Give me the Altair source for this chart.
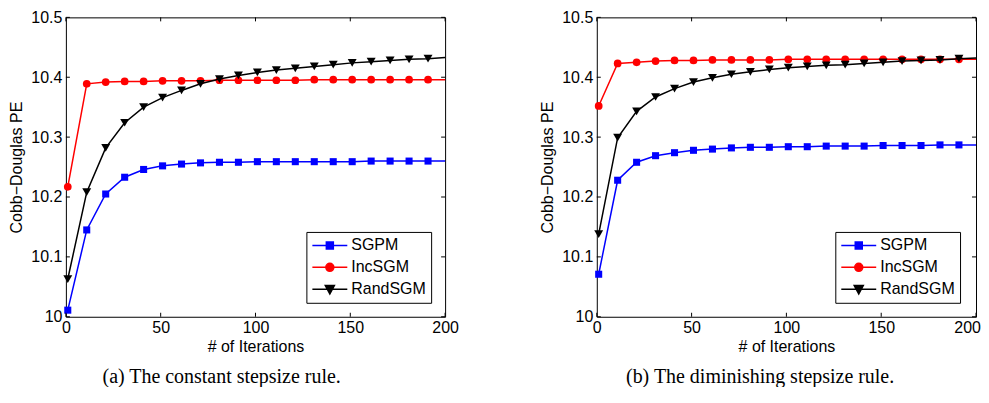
import altair as alt
import pandas as pd

# ---------------- data ----------------
iterations = [1, 11, 21, 31, 41, 51, 61, 71, 81, 91, 101, 111, 121, 131, 141,
              151, 161, 171, 181, 191, 200]
series_names = ["SGPM", "IncSGM", "RandSGM"]

# (a) constant stepsize rule
const_sgpm = [10.011, 10.145, 10.205, 10.233, 10.246, 10.252, 10.255, 10.257,
              10.258, 10.258, 10.259, 10.259, 10.259, 10.259, 10.259, 10.259,
              10.260, 10.260, 10.260, 10.260, 10.260]
const_inc = [10.217, 10.389, 10.392, 10.393, 10.393, 10.394, 10.394, 10.394,
             10.395, 10.395, 10.395, 10.395, 10.395, 10.396, 10.396, 10.396,
             10.396, 10.396, 10.396, 10.396, 10.396]
const_rand = [10.063, 10.208, 10.282, 10.324, 10.350, 10.366, 10.378, 10.389,
              10.397, 10.403, 10.408, 10.412, 10.415, 10.418, 10.421, 10.424,
              10.426, 10.428, 10.430, 10.431, 10.433]

# (b) diminishing stepsize rule
dim_sgpm = [10.071, 10.228, 10.258, 10.269, 10.274, 10.278, 10.280, 10.282,
            10.283, 10.283, 10.284, 10.284, 10.285, 10.285, 10.285, 10.286,
            10.286, 10.286, 10.287, 10.287, 10.287]
dim_inc = [10.352, 10.423, 10.425, 10.427, 10.428, 10.428, 10.429, 10.429,
           10.429, 10.429, 10.430, 10.430, 10.430, 10.430, 10.430, 10.430,
           10.430, 10.430, 10.430, 10.430, 10.430]
dim_rand = [10.138, 10.299, 10.343, 10.367, 10.381, 10.392, 10.399, 10.405,
            10.409, 10.413, 10.416, 10.418, 10.420, 10.421, 10.423, 10.425,
            10.427, 10.428, 10.429, 10.431, 10.432]

x_ticks = [0, 50, 100, 150, 200]
y_ticks = [10.0, 10.1, 10.2, 10.3, 10.4, 10.5]
x_title = "# of Iterations"
y_title = "Cobb\u2212Douglas PE"
captions = ["(a) The constant stepsize rule.", "(b) The diminishing stepsize rule."]

# ---------------- styles ----------------
colors = ["#0000ff", "#ff0000", "#000000"]
marker_shapes = ["square", "circle", "triangle-down"]
marker_sizes = [50, 60, 80]
legend_paths = [
    "M-1,0H1M-0.2,-0.2H0.2V0.2H-0.2Z",
    "M-1,0H1M-0.23,0A0.23,0.23 0 1,0 0.23,0A0.23,0.23 0 1,0 -0.23,0Z",
    "M-1,0H1M-0.26,-0.22L0.26,-0.22L0,0.26Z",
]
W, H = 380, 300
SANS = "Liberation Sans"
FS = 16


def panel(values, caption, cap_dx, leg_x, flush):
    rows = []
    for name, arr in zip(series_names, values):
        for it, v in zip(iterations, arr):
            rows.append({"iter": it, "value": v, "series": name})
    df = pd.DataFrame(rows)

    xs = alt.Scale(domain=[0, 200], nice=False, zero=False)
    ys = alt.Scale(domain=[10, 10.5], nice=False, zero=False)

    x_axis = alt.Axis(values=x_ticks, title=x_title, ticks=False, domain=False,
                      grid=False, labelPadding=3, titlePadding=3,
                      labelFlush=flush, labelFlushOffset=4.45,
                      labelOverlap=False,
                      labelFont=SANS, titleFont=SANS, labelFontSize=FS,
                      titleFontSize=FS, titleFontWeight="normal",
                      labelColor="black", titleColor="black")
    y_axis = alt.Axis(values=y_ticks, title=y_title, ticks=False, domain=False,
                      grid=False, labelPadding=4, titlePadding=6, format="~g",
                      labelOverlap=False,
                      labelFont=SANS, titleFont=SANS, labelFontSize=FS,
                      titleFontSize=FS, titleFontWeight="normal",
                      labelColor="black", titleColor="black")

    base = alt.Chart(df)
    X = alt.X("iter:Q", scale=xs, axis=x_axis)
    Y = alt.Y("value:Q", scale=ys, axis=y_axis)
    layers = []
    for i, name in enumerate(series_names):
        sub = base.transform_filter(alt.datum.series == name)
        line = sub.mark_line(strokeWidth=1.5, color=colors[i]).encode(x=X, y=Y)
        pts = sub.transform_filter(alt.datum.iter < 200).mark_point(
            shape=marker_shapes[i], size=marker_sizes[i], filled=True,
            opacity=1, color=colors[i]
        ).encode(x=X, y=Y)
        layers += [line, pts]

    leg = alt.Legend(title=None, orient="none", legendX=leg_x, legendY=215,
                     symbolSize=1225, symbolStrokeWidth=1.5, symbolOpacity=1,
                     labelFontSize=FS, labelFont=SANS, labelColor="black",
                     strokeColor="black", fillColor="white", padding=5,
                     rowPadding=5, clipHeight=17, labelOffset=3)
    legend_layer = base.mark_point(filled=True, size=1, opacity=0).encode(
        x=X, y=Y,
        fill=alt.Fill("series:N", scale=alt.Scale(domain=series_names, range=colors), legend=leg),
        stroke=alt.Stroke("series:N", scale=alt.Scale(domain=series_names, range=colors), legend=leg),
        shape=alt.Shape("series:N", scale=alt.Scale(domain=series_names, range=legend_paths), legend=leg),
    )

    xt = alt.Chart(pd.DataFrame({"t": x_ticks}))
    yt = alt.Chart(pd.DataFrame({"t": y_ticks}))
    TX = alt.X("t:Q", scale=xs, axis=x_axis)
    TY = alt.Y("t:Q", scale=ys, axis=y_axis)
    tick_bottom = xt.mark_rule(color="black", strokeWidth=1).encode(
        x=TX, y=alt.value(H), y2=alt.value(H - 4))
    tick_top = xt.mark_rule(color="black", strokeWidth=1).encode(
        x=TX, y=alt.value(0), y2=alt.value(4))
    tick_left = yt.mark_rule(color="black", strokeWidth=1).encode(
        y=TY, x=alt.value(0), x2=alt.value(4))
    tick_right = yt.mark_rule(color="black", strokeWidth=1).encode(
        y=TY, x=alt.value(W), x2=alt.value(W - 4))

    return alt.layer(*layers, legend_layer, tick_bottom, tick_top, tick_left,
                     tick_right).properties(
        width=W, height=H,
        title=alt.TitleParams(caption, orient="bottom", font="Liberation Serif",
                              fontSize=20, fontWeight="normal", color="black",
                              offset=12, anchor="middle", frame="bounds",
                              dx=cap_dx),
    )


left = panel([const_sgpm, const_inc, const_rand], captions[0], -12, 241, False)
right = panel([dim_sgpm, dim_inc, dim_rand], captions[1], 0, 239, True)

chart = alt.hconcat(left, right, spacing=80).resolve_scale(
    fill="independent", stroke="independent", shape="independent"
).resolve_legend(
    fill="independent", stroke="independent", shape="independent"
).properties(
    padding={"left": 0, "top": 0, "right": 0, "bottom": -1},
    background="white",
).configure_view(
    stroke="black", strokeWidth=1
)

chart.save("out.html", embed_options={"renderer": "svg", "actions": False})
